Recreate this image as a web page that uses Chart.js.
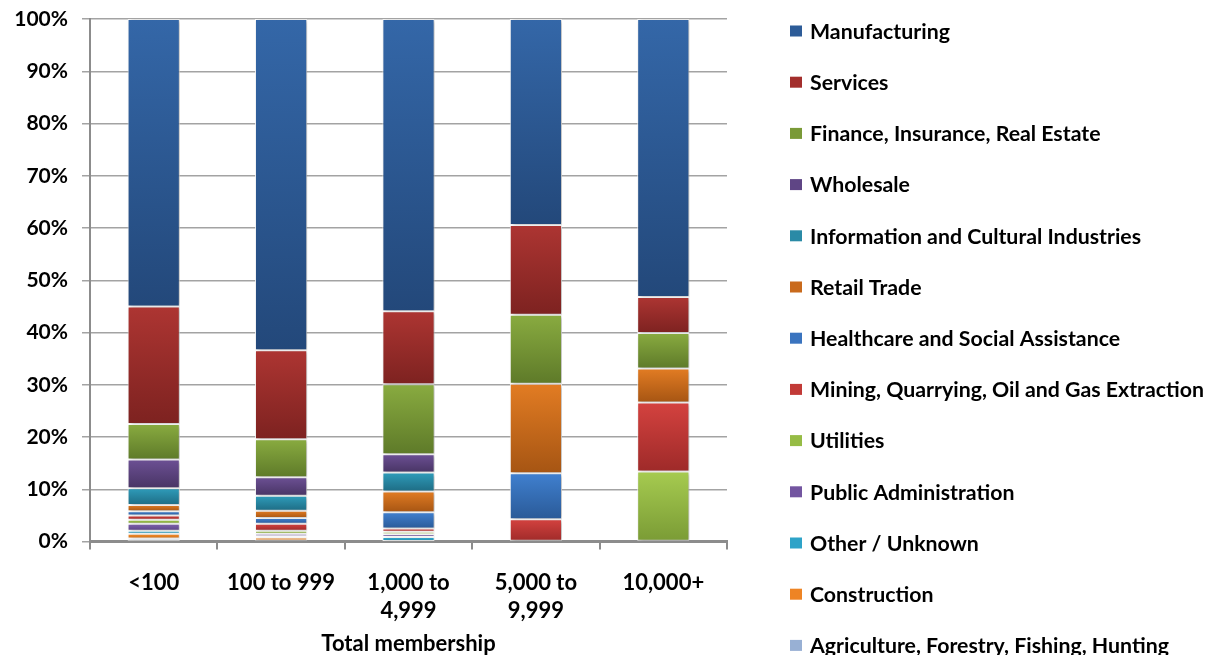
<!DOCTYPE html>
<html>
<head>
<meta charset="utf-8">
<script src="https://cdn.jsdelivr.net/npm/chart.js@4.4.0/dist/chart.umd.min.js"></script>
<style>
  html, body { margin: 0; padding: 0; background: #fff; overflow: hidden; }
  #wrap { position: relative; width: 1208px; height: 657px; }
</style>
</head>
<body>
<div id="wrap"><canvas id="c" width="1208" height="657"></canvas></div>
<script>
// ---- Data (percent of members in each size class) ----
const categories = ['<100', '100 to 999', ['1,000 to', '4,999'], ['5,000 to', '9,999'], '10,000+'];
const axisTitle = 'Total membership';

// Legend order (top of stack first)
const seriesNames = [
  'Manufacturing',
  'Services',
  'Finance, Insurance, Real Estate',
  'Wholesale',
  'Information and Cultural Industries',
  'Retail Trade',
  'Healthcare and Social Assistance',
  'Mining, Quarrying, Oil and Gas Extraction',
  'Utilities',
  'Public Administration',
  'Other / Unknown',
  'Construction',
  'Agriculture, Forestry, Fishing, Hunting'
];

const manufacturing = [55.0, 63.4, 55.9, 39.4, 53.2];
const services      = [22.5, 17.0, 14.0, 17.2, 6.9];
const finance       = [6.8, 7.3, 13.4, 13.2, 6.8];
const wholesale     = [5.5, 3.55, 3.5, 0, 0];
const information   = [3.2, 2.85, 3.6, 0, 0];
const retail        = [1.2, 1.4, 4.0, 17.1, 6.5];
const healthcare    = [0.8, 1.1, 3.1, 8.8, 0];
const mining        = [0.8, 1.3, 0.6, 4.3, 13.2];
const utilities     = [0.8, 0.6, 0.5, 0, 13.4];
const publicAdmin   = [1.3, 0.5, 0.5, 0, 0];
const otherUnknown  = [0.6, 0.2, 0.8, 0, 0];
const construction  = [0.9, 0.6, 0.1, 0, 0];
const agriculture   = [0.6, 0.2, 0.0, 0, 0];

const seriesValues = [manufacturing, services, finance, wholesale, information, retail,
  healthcare, mining, utilities, publicAdmin, otherUnknown, construction, agriculture];

// [light (top), dark (bottom), legend swatch]
const seriesColors = [
  ['#3467a8', '#23487a', '#2d5c98'],
  ['#ad3532', '#7d2220', '#a32e2c'],
  ['#89ab40', '#5e7a29', '#7a9a37'],
  ['#6c5094', '#483464', '#5f4585'],
  ['#2f9cba', '#1e6c84', '#2a8aa6'],
  ['#e27c23', '#a65513', '#c96a1c'],
  ['#4080cf', '#2a5a98', '#3a74bf'],
  ['#d4423f', '#9e2a29', '#c23a37'],
  ['#a6cb50', '#7a9b35', '#96bc45'],
  ['#8062ae', '#5b4485', '#7355a0'],
  ['#35b2d8', '#2287a8', '#2ea3c8'],
  ['#f49030', '#cf6c14', '#ee8424'],
  ['#adc2e0', '#8aa3c8', '#98b0d4']
];

const tickFont = { family: 'Lato', weight: 'bold', size: 22, lineHeight: '28px' };
const legendFontSize = 21.3;

function gradientFill(idx) {
  const [light, dark, mid] = seriesColors[idx];
  return (c) => {
    if (c.type !== 'data') return mid;
    const chart = c.chart;
    const y = chart.scales && chart.scales.y;
    if (!y) return mid;
    let start = 0;
    for (let k = 0; k < c.datasetIndex; k++) start += chart.data.datasets[k].data[c.dataIndex] || 0;
    const end = start + (c.raw || 0);
    const top = y.getPixelForValue(end), bot = y.getPixelForValue(start);
    if (!isFinite(top) || !isFinite(bot) || Math.abs(bot - top) < 0.5) return mid;
    const g = chart.ctx.createLinearGradient(0, top, 0, bot);
    g.addColorStop(0, light);
    g.addColorStop(1, dark);
    return g;
  };
}

// datasets: bottom of the stack first
const datasets = [];
for (let i = seriesNames.length - 1; i >= 0; i--) {
  datasets.push({
    label: seriesNames[i],
    data: seriesValues[i],
    backgroundColor: gradientFill(i),
    borderColor: 'rgba(255,255,255,0.85)',
    borderWidth: 1,
    borderSkipped: false,
    categoryPercentage: 1.0,
    barPercentage: 0.41
  });
}

const shadowPlugin = {
  id: 'barShadow',
  beforeDatasetsDraw(chart) {
    const ctx = chart.ctx;
    ctx.save();
    ctx.shadowColor = 'rgba(0,0,0,0.28)';
    ctx.shadowBlur = 4;
    ctx.shadowOffsetX = 2;
    ctx.shadowOffsetY = 1;
  },
  afterDatasetsDraw(chart) { chart.ctx.restore(); }
};

const legendPlugin = {
  id: 'sideLegend',
  afterDraw(chart) {
    const ctx = chart.ctx;
    ctx.save();
    ctx.font = 'bold ' + legendFontSize + 'px Lato';
    ctx.textBaseline = 'middle';
    ctx.textAlign = 'left';
    seriesNames.forEach((name, i) => {
      const cy = 31 + i * 51.2;
      ctx.fillStyle = seriesColors[i][2];
      ctx.fillRect(790, cy - 5.5, 12, 11);
      ctx.fillStyle = '#000';
      ctx.fillText(name, 810, cy + 1);
    });
    ctx.restore();
  }
};

new Chart(document.getElementById('c'), {
  type: 'bar',
  data: { labels: categories, datasets },
  plugins: [shadowPlugin, legendPlugin],
  options: {
    responsive: false,
    animation: false,
    devicePixelRatio: 1,
    layout: { padding: { top: 19, right: 481, bottom: 0, left: 0 } },
    plugins: { legend: { display: false }, tooltip: { enabled: false } },
    scales: {
      x: {
        stacked: true,
        offset: true,
        grid: { display: true, drawOnChartArea: false, drawTicks: true, tickLength: 8, color: '#8c8c8c', lineWidth: 2 },
        border: { display: true, color: '#8c8c8c', width: 3 },
        ticks: { color: '#000', font: tickFont, padding: 19, maxRotation: 0, autoSkip: false },
        title: { display: true, text: axisTitle, color: '#000', font: { family: 'Lato', weight: 'bold', size: 22, lineHeight: 1.2 }, padding: { top: -13, bottom: 0 } }
      },
      y: {
        stacked: true,
        min: 0, max: 100,
        afterFit(scale) { scale.width = 90; scale.paddingTop = 8; scale.paddingBottom = 8; },
        grid: { color: '#a3a3a3', lineWidth: 1.5, tickLength: 8, drawTicks: true },
        border: { display: true, color: '#8c8c8c', width: 2 },
        ticks: { stepSize: 10, color: '#000', font: { family: 'Lato', weight: 'bold', size: 21 }, padding: 14, callback: (v) => v + '%' }
      }
    }
  }
});
</script>
</body>
</html>
